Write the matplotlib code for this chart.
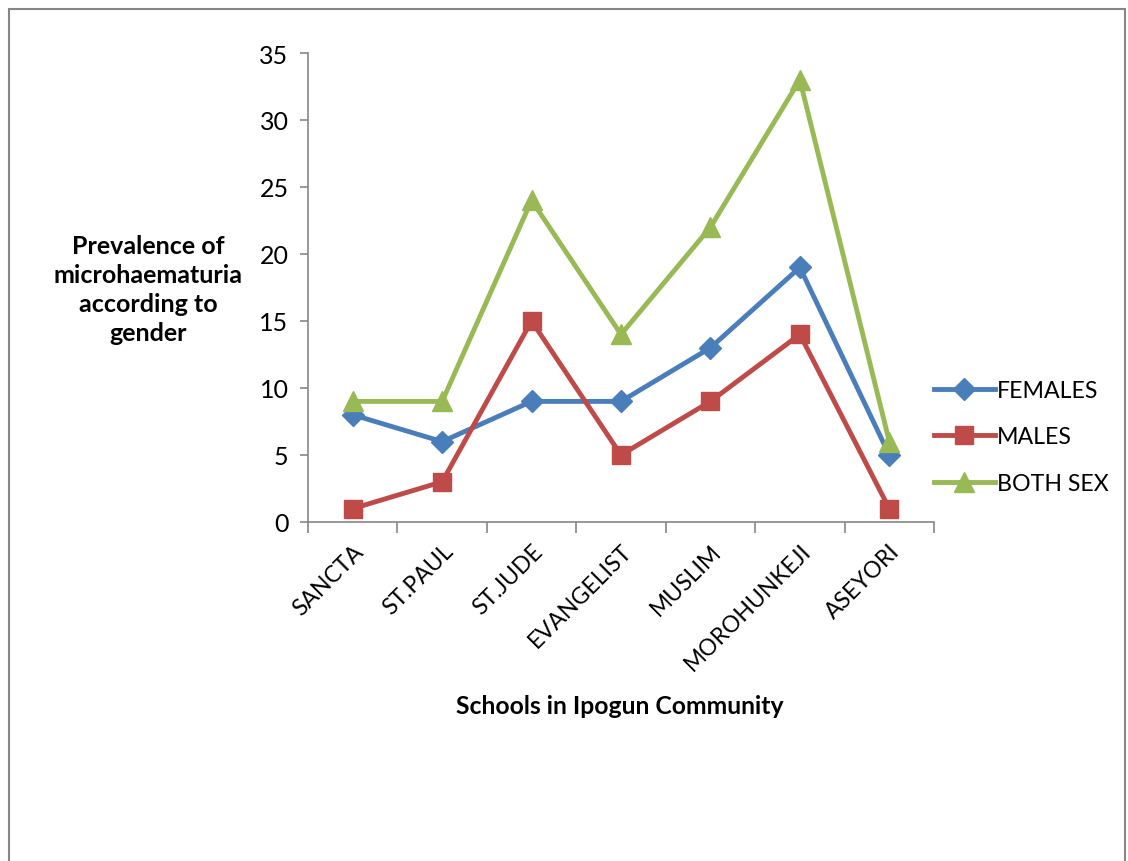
import matplotlib
matplotlib.use("Agg")
import matplotlib.pyplot as plt
from matplotlib.patches import Rectangle

plt.rcParams['font.family'] = ['Lato', 'DejaVu Sans']

schools = ["SANCTA", "ST.PAUL", "ST.JUDE", "EVANGELIST", "MUSLIM", "MOROHUNKEJI", "ASEYORI"]
females = [8, 6, 9, 9, 13, 19, 5]
males = [1, 3, 15, 5, 9, 14, 1]
both_sex = [9, 9, 24, 14, 22, 33, 6]

fig = plt.figure(figsize=(11.28, 8.62), dpi=100)
ax = fig.add_axes([308 / 1128, 1 - 523 / 862, (934 - 308) / 1128, (523 - 54) / 862])

x = list(range(len(schools)))
ax.plot(x, females, color='#4A7EBB', lw=3.5, marker='D', ms=11, label='FEMALES')
ax.plot(x, males, color='#BE4B48', lw=3.5, marker='s', ms=13.5, label='MALES')
ax.plot(x, both_sex, color='#98B954', lw=3.5, marker='^', ms=14, label='BOTH SEX')

ax.set_xlim(-0.5, len(schools) - 0.5)
ax.set_ylim(0, 35)
ax.set_yticks(range(0, 36, 5))
ax.set_xticks([i - 0.5 for i in range(len(schools) + 1)])
ax.set_xticklabels([])
ax.set_xticks(x, minor=True)
ax.set_xticklabels(schools, minor=True, rotation=45, ha='right', va='top',
                   rotation_mode='anchor', fontsize=16.5)
ax.tick_params(axis='x', which='minor', length=0, pad=13)
ax.tick_params(axis='x', which='major', length=8, color='#868686', width=1.2)
ax.tick_params(axis='y', length=6, color='#868686', width=1.2, labelsize=18, pad=8)

for s in ['top', 'right']:
    ax.spines[s].set_visible(False)
for s in ['left', 'bottom']:
    ax.spines[s].set_color('#868686')
    ax.spines[s].set_linewidth(1.2)

fig.text(148 / 1128, 1 - 290 / 862, "Prevalence of\nmicrohaematuria\naccording to\ngender",
         ha='center', va='center', fontsize=18, fontweight='bold', linespacing=1.3)
fig.text(620 / 1128, 1 - 706 / 862, "Schools in Ipogun Community",
         ha='center', va='center', fontsize=17.8, fontweight='bold')

fig.legend(loc='center left', bbox_to_anchor=(925 / 1128, 1 - 438 / 862), frameon=False,
           fontsize=16.7, handlelength=2.6, handletextpad=0.1, labelspacing=1.1,
           borderaxespad=0)

fig.add_artist(Rectangle((9 / 1128, -0.05), (1125 - 9) / 1128, 1.05 - 10 / 862,
                         transform=fig.transFigure, fill=False, edgecolor='#868686', lw=1.5))

fig.savefig("out.png", dpi=100)
